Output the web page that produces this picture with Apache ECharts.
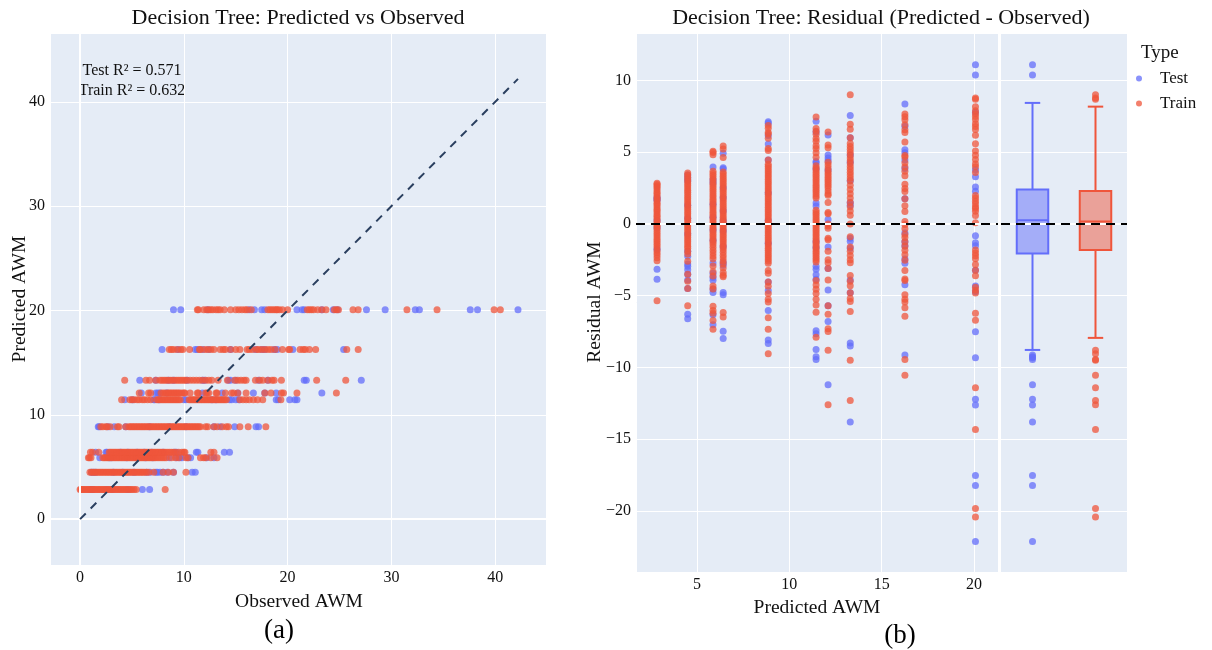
<!DOCTYPE html>
<html><head><meta charset="utf-8">
<script src="https://cdn.jsdelivr.net/npm/echarts@6/dist/echarts.min.js"></script>
<style>html,body{margin:0;padding:0;background:#fff}#c{width:1212px;height:650px}</style>
</head><body><div id="c"></div>
<script>
// ---- data ----
const predLevels = [2.84, 4.5, 5.87, 6.42, 8.86, 11.45, 12.1, 13.3, 16.26, 20.08];

const testObs1 = [1.0, 1.1, 1.2, 2.6, 3.1, 4.6, 6.0, 6.7];
const testObs2 = [1.1, 1.3, 1.5, 3.2, 4.1, 5.2, 6.4, 6.75, 7.3, 7.45, 7.7, 8.0, 8.4, 9.0, 10.8, 11.1];
const testObs3 = [1.9, 2.8, 3.0, 4.5, 5.4, 6.3, 7.0, 8.6, 9.3, 9.6, 9.8, 10.4, 10.65, 12.2, 12.9];
const testObs4 = [1.5, 2.5, 2.6, 3.9, 4.6, 5.5, 6.2, 6.9, 8.0, 9.1, 9.3, 11.2, 11.35, 13.9, 14.4];
const testObs5 = [1.75, 1.85, 2.7, 3.3, 4.4, 6.7, 8.6, 10.2, 12.9, 13.5, 14.9, 16.95, 17.2];
const testObs6 = [4.3, 5.05, 7.1, 7.2, 7.6, 10.0, 10.2, 12.7, 13.1, 14.4, 14.6, 15.0, 15.3, 18.9, 19.1, 20.2, 20.7, 20.9];
const testObs7 = [5.9, 7.3, 7.5, 7.7, 8.35, 11.8, 13.7, 15.2, 16.7, 17.8, 18.9, 23.3];
const testObs8 = [5.75, 7.3, 8.5, 9.0, 10.3, 11.8, 12.0, 14.3, 14.5, 15.0, 17.2, 18.1, 21.6, 21.8, 27.1];
const testObs9 = [7.9, 9.45, 11.1, 11.3, 11.8, 12.4, 14.5, 16.9, 17.5, 17.8, 18.7, 19.0, 20.5, 25.4];
const testObs10 = [9.0, 9.7, 12.3, 16.3, 16.8, 17.5, 17.8, 20.9, 21.4, 21.6, 23.3, 24.4, 24.8, 27.6, 29.4, 32.3, 32.7, 37.6, 38.3, 42.2];

const trainObs1 = [0.0, 0.1, 0.2, 0.3, 0.45, 0.6, 0.7, 0.85, 1.0, 1.1, 1.25, 1.4, 1.5, 1.65, 1.8, 1.9, 2.05, 2.2, 2.3, 2.45, 2.6, 2.75, 2.9, 3.0, 3.15, 3.3, 3.45, 3.6, 3.75, 3.9, 4.05, 4.2, 4.35, 4.5, 4.7, 4.85, 5.0, 5.2, 5.4, 8.2];
const trainObs2 = [0.95, 1.1, 1.25, 1.4, 1.55, 1.7, 1.85, 2.0, 2.15, 2.3, 2.45, 2.6, 2.75, 2.9, 3.05, 3.2, 3.35, 3.5, 3.65, 3.8, 3.95, 4.1, 4.25, 4.4, 4.55, 4.7, 4.85, 5.0, 5.15, 5.3, 5.45, 5.6, 5.75, 5.9, 6.05, 6.2, 6.4, 6.6, 7.1, 8.0, 8.5, 9.0, 10.2];
const trainObs3 = [0.8, 0.9, 1.05, 2.2, 2.35, 2.5, 2.65, 2.8, 2.95, 3.1, 3.25, 3.4, 3.55, 3.7, 3.85, 4.0, 4.15, 4.3, 4.45, 4.6, 4.75, 4.9, 5.05, 5.2, 5.35, 5.5, 5.65, 5.8, 5.95, 6.1, 6.25, 6.4, 6.55, 6.7, 6.85, 7.0, 7.15, 7.3, 7.5, 7.7, 7.9, 8.1, 8.3, 8.8, 9.2, 9.5, 10.2, 10.4, 11.6, 11.9, 12.1, 12.6, 13.2];
const trainObs4 = [1.0, 1.2, 1.8, 2.8, 2.95, 3.1, 3.25, 3.4, 3.55, 3.7, 3.85, 4.0, 4.15, 4.3, 4.45, 4.6, 4.75, 4.9, 5.05, 5.2, 5.35, 5.5, 5.65, 5.8, 5.95, 6.1, 6.25, 6.4, 6.55, 6.7, 6.85, 7.0, 7.15, 7.3, 7.45, 7.6, 7.75, 7.9, 8.05, 8.2, 8.4, 8.6, 8.8, 9.0, 9.2, 9.5, 9.8, 10.0, 10.1, 12.6, 12.9];
const trainObs5 = [2.0, 2.2, 2.5, 2.6, 2.9, 3.6, 3.75, 4.4, 4.7, 4.85, 5.0, 5.15, 5.3, 5.45, 5.6, 5.75, 5.9, 6.05, 6.2, 6.35, 6.5, 6.65, 6.8, 6.95, 7.1, 7.25, 7.4, 7.55, 7.7, 7.85, 8.0, 8.15, 8.3, 8.45, 8.6, 8.75, 8.9, 9.05, 9.2, 9.35, 9.5, 9.65, 9.8, 9.95, 10.1, 10.25, 10.4, 10.55, 10.7, 10.85, 11.0, 11.15, 11.3, 11.45, 11.6, 12.1, 12.3, 12.9, 13.2, 13.7, 14.1, 14.3, 15.4, 16.2, 17.9];
const trainObs6 = [4.0, 4.8, 5.0, 5.2, 5.5, 5.7, 6.0, 6.2, 6.5, 6.8, 7.4, 7.55, 7.7, 7.85, 8.0, 8.15, 8.3, 8.45, 8.6, 8.75, 8.9, 9.05, 9.2, 9.35, 9.5, 9.65, 10.5, 10.65, 10.8, 10.95, 11.1, 11.25, 11.4, 11.55, 11.7, 11.85, 12.0, 12.15, 12.3, 12.45, 12.6, 12.75, 12.9, 13.05, 13.2, 13.35, 13.5, 13.65, 13.8, 13.95, 14.1, 15.4, 15.7, 16.0, 16.3, 16.7, 17.1, 17.6, 19.35];
const trainObs7 = [5.7, 6.6, 6.8, 7.8, 8.0, 8.2, 8.4, 8.55, 8.7, 8.85, 9.0, 9.15, 9.3, 9.45, 9.6, 9.8, 10.0, 10.1, 10.6, 11.3, 11.4, 12.1, 12.25, 12.4, 13.1, 13.2, 14.0, 14.6, 14.8, 15.2, 16.0, 17.8, 18.4, 19.4, 19.6, 20.9, 24.7];
const trainObs8 = [4.3, 6.35, 6.7, 7.3, 7.7, 7.9, 8.1, 8.3, 8.5, 8.7, 8.9, 9.1, 9.3, 9.5, 9.7, 9.9, 10.1, 10.3, 10.6, 10.9, 11.2, 11.5, 11.8, 12.1, 12.4, 12.7, 13.3, 14.2, 14.9, 15.2, 15.5, 15.8, 16.0, 16.9, 17.3, 17.6, 18.1, 18.5, 18.7, 19.4, 22.8, 25.6];
const trainObs9 = [8.6, 8.8, 9.0, 9.35, 9.7, 9.9, 10.55, 11.5, 11.6, 12.0, 12.3, 12.6, 12.9, 13.5, 13.8, 14.0, 14.5, 15.0, 15.4, 16.1, 16.3, 16.6, 17.0, 17.2, 17.5, 17.8, 18.1, 18.4, 18.8, 19.5, 20.1, 20.2, 21.2, 21.5, 21.7, 22.1, 22.7, 25.7, 26.8];
const trainObs10 = [11.3, 11.4, 11.92, 12.2, 12.4, 12.6, 12.8, 13.1, 13.3, 13.5, 13.9, 14.5, 15.0, 15.3, 15.6, 15.9, 16.1, 16.5, 18.1, 18.3, 18.5, 18.7, 18.9, 19.0, 19.2, 19.5, 20.0, 21.9, 22.1, 22.3, 22.5, 22.9, 23.3, 23.7, 24.5, 24.7, 24.9, 26.3, 26.8, 31.5, 34.4, 39.9, 40.5];

const testObsByLevel = [testObs1, testObs2, testObs3, testObs4, testObs5, testObs6, testObs7, testObs8, testObs9, testObs10];
const trainObsByLevel = [trainObs1, trainObs2, trainObs3, trainObs4, trainObs5, trainObs6, trainObs7, trainObs8, trainObs9, trainObs10];

const typeNames = ['Test', 'Train'];
// box stats: lower whisker, Q1, median, Q3, upper whisker
const boxTest = [-8.78, -2.07, 0.26, 2.39, 8.43];
const boxTrain = [-7.94, -1.81, 0.16, 2.30, 8.17];
const r2Texts = ['Test R\u00b2 = 0.571', 'Train R\u00b2 = 0.632'];
const refLine = [[0, 0], [42.2, 42.2]];

const leftXTicks = [0, 10, 20, 30, 40];
const leftYTicks = [0, 10, 20, 30, 40];
const rightXTicks = [5, 10, 15, 20];
const rightYTicks = [-20, -15, -10, -5, 0, 5, 10];

// ---- build ----
const FONT = '"Liberation Serif", "Times New Roman", serif';
const TXT = '#111';
const C_TEST = '#636EFA', C_TRAIN = '#EF553B';
const F_TEST = 'rgba(99,110,250,0.5)', F_TRAIN = 'rgba(239,85,59,0.5)';
const BG = '#E5ECF6';
const r2 = v => Math.round(v * 100) / 100;

const leftTest = [], leftTrain = [], resTest = [], resTrain = [];
predLevels.forEach((p, i) => {
  testObsByLevel[i].forEach(o => { leftTest.push([o, p]); resTest.push([p, r2(p - o)]); });
  trainObsByLevel[i].forEach(o => { leftTrain.push([o, p]); resTrain.push([p, r2(p - o)]); });
});
const outTest = resTest.filter(d => d[1] < boxTest[0] || d[1] > boxTest[4]).map(d => [0, d[1]]);
const outTrain = resTrain.filter(d => d[1] < boxTrain[0] || d[1] > boxTrain[4]).map(d => [1, d[1]]);

const minus = v => (v < 0 ? '\u2212' + Math.abs(v) : String(v));
const fmt = ticks => v => (ticks.indexOf(Math.round(v * 1000) / 1000) >= 0 ? minus(Math.round(v * 1000) / 1000) : '');
const lab = (ticks) => ({ fontFamily: FONT, fontSize: 16, color: TXT, margin: 5, formatter: fmt(ticks), showMinLabel: false, showMaxLabel: false });
const split = { show: true, lineStyle: { color: '#fff', width: 1 } };

const chart = echarts.init(document.getElementById('c'), null, { renderer: 'canvas' });
const dotStyle = (c) => ({ color: c, opacity: 0.75 });

const option = {
  animation: false,
  backgroundColor: '#fff',
  grid: [
    { left: 50, top: 33, width: 496, height: 532, show: true, backgroundColor: BG, borderWidth: 0 },
    { left: 636, top: 33, width: 362, height: 539, show: true, backgroundColor: BG, borderWidth: 0 },
    { left: 1001, top: 33, width: 126, height: 539, show: true, backgroundColor: BG, borderWidth: 0 }
  ],
  xAxis: [
    { gridIndex: 0, type: 'value', min: -2.9, max: 44.9, splitNumber: 5, axisLine: { show: false }, axisTick: { show: false }, axisLabel: lab(leftXTicks), splitLine: split },
    { gridIndex: 1, type: 'value', min: 1.7, max: 21.3, splitNumber: 4, axisLine: { show: false }, axisTick: { show: false }, axisLabel: lab(rightXTicks), splitLine: split },
    { gridIndex: 2, type: 'category', data: typeNames, boundaryGap: true, axisLine: { show: false }, axisTick: { show: false }, axisLabel: { show: false }, splitLine: { show: false } }
  ],
  yAxis: [
    { gridIndex: 0, type: 'value', min: -4.4, max: 46.6, splitNumber: 5, axisLine: { show: false }, axisTick: { show: false }, axisLabel: lab(leftYTicks), splitLine: split },
    { gridIndex: 1, type: 'value', min: -24.25, max: 13.3, splitNumber: 8, axisLine: { show: false }, axisTick: { show: false }, axisLabel: lab(rightYTicks), splitLine: split },
    { gridIndex: 2, type: 'value', min: -24.25, max: 13.3, splitNumber: 8, axisLine: { show: false }, axisTick: { show: false }, axisLabel: { show: false }, splitLine: split }
  ],
  legend: {
    data: typeNames, orient: 'vertical', left: 1131, top: 65, icon: 'circle',
    itemWidth: 32, itemHeight: 6, itemGap: 8, selectedMode: false,
    textStyle: { fontFamily: FONT, fontSize: 17, color: TXT, lineHeight: 17 }
  },
  graphic: [
    { type: 'text', x: 298, y: 18, style: { text: 'Decision Tree: Predicted vs Observed', font: '22px ' + FONT, fill: TXT, textAlign: 'center', textVerticalAlign: 'middle' } },
    { type: 'text', x: 881, y: 18, style: { text: 'Decision Tree: Residual (Predicted - Observed)', font: '22px ' + FONT, fill: TXT, textAlign: 'center', textVerticalAlign: 'middle' } },
    { type: 'text', x: 132, y: 71, style: { text: r2Texts[0], font: '16px ' + FONT, fill: TXT, textAlign: 'center', textVerticalAlign: 'middle' } },
    { type: 'text', x: 132, y: 91, style: { text: r2Texts[1], font: '16px ' + FONT, fill: TXT, textAlign: 'center', textVerticalAlign: 'middle' } },
    { type: 'text', x: 299, y: 602, style: { text: 'Observed AWM', font: '19.5px ' + FONT, fill: TXT, textAlign: 'center', textVerticalAlign: 'middle' } },
    { type: 'text', x: 817, y: 608, style: { text: 'Predicted AWM', font: '19.5px ' + FONT, fill: TXT, textAlign: 'center', textVerticalAlign: 'middle' } },
    { type: 'text', x: 20, y: 299, rotation: Math.PI / 2, style: { text: 'Predicted AWM', font: '19.5px ' + FONT, fill: TXT, textAlign: 'center', textVerticalAlign: 'middle' } },
    { type: 'text', x: 595, y: 302, rotation: Math.PI / 2, style: { text: 'Residual AWM', font: '19.5px ' + FONT, fill: TXT, textAlign: 'center', textVerticalAlign: 'middle' } },
    { type: 'text', x: 279, y: 631, style: { text: '(a)', font: '27px ' + FONT, fill: '#000', textAlign: 'center', textVerticalAlign: 'middle' } },
    { type: 'text', x: 900, y: 636, style: { text: '(b)', font: '27px ' + FONT, fill: '#000', textAlign: 'center', textVerticalAlign: 'middle' } },
    { type: 'text', x: 1141, y: 53, style: { text: 'Type', font: '19px ' + FONT, fill: TXT, textAlign: 'left', textVerticalAlign: 'middle' } }
  ],
  series: [
    { type: 'line', xAxisIndex: 0, yAxisIndex: 0, data: [], z: 1, silent: true,
      markLine: { silent: true, symbol: 'none', label: { show: false }, lineStyle: { color: '#fff', width: 2, type: 'solid' }, data: [{ xAxis: 0 }, { yAxis: 0 }] } },
    { name: 'Test', type: 'scatter', xAxisIndex: 0, yAxisIndex: 0, data: leftTest, symbolSize: 7, itemStyle: dotStyle(C_TEST), z: 3 },
    { name: 'Train', type: 'scatter', xAxisIndex: 0, yAxisIndex: 0, data: leftTrain, symbolSize: 7, itemStyle: dotStyle(C_TRAIN), z: 4 },
    { type: 'line', xAxisIndex: 0, yAxisIndex: 0, data: refLine, symbol: 'none', z: 6, silent: true,
      lineStyle: { color: '#2a3f5f', width: 2, type: [8, 7] } },
    { type: 'line', xAxisIndex: 1, yAxisIndex: 1, data: [], z: 1, silent: true,
      markLine: { silent: true, symbol: 'none', label: { show: false }, lineStyle: { color: '#fff', width: 2, type: 'solid' }, data: [{ yAxis: 0 }] } },
    { name: 'Test', type: 'scatter', xAxisIndex: 1, yAxisIndex: 1, data: resTest, symbolSize: 7, itemStyle: dotStyle(C_TEST), z: 3 },
    { name: 'Train', type: 'scatter', xAxisIndex: 1, yAxisIndex: 1, data: resTrain, symbolSize: 7, itemStyle: dotStyle(C_TRAIN), z: 4 },
    { type: 'line', xAxisIndex: 1, yAxisIndex: 1, data: [], z: 8, silent: true,
      markLine: { silent: true, symbol: 'none', label: { show: false }, lineStyle: { color: '#000', width: 2, type: [9, 6] }, data: [{ yAxis: 0 }] } },
    { type: 'line', xAxisIndex: 2, yAxisIndex: 2, data: [], z: 1, silent: true,
      markLine: { silent: true, symbol: 'none', label: { show: false }, lineStyle: { color: '#fff', width: 2, type: 'solid' }, data: [{ yAxis: 0 }] } },
    { type: 'custom', xAxisIndex: 2, yAxisIndex: 2, z: 3, silent: true,
      data: [[0].concat(boxTest), [1].concat(boxTrain)],
      encode: { x: 0, y: [1, 2, 3, 4, 5] },
      renderItem: function (params, api) {
        const xi = api.value(0);
        const lo = api.coord([xi, api.value(1)]);
        const q1 = api.coord([xi, api.value(2)]);
        const md = api.coord([xi, api.value(3)]);
        const q3 = api.coord([xi, api.value(4)]);
        const hi = api.coord([xi, api.value(5)]);
        const band = api.size([1, 0])[0];
        const bw = band * 0.5, cw = band * 0.245;
        const cx = lo[0];
        const stroke = xi === 0 ? C_TEST : C_TRAIN;
        const fill = xi === 0 ? F_TEST : F_TRAIN;
        const ls = { stroke: stroke, lineWidth: 2, fill: null };
        return { type: 'group', children: [
          { type: 'line', shape: { x1: cx, y1: hi[1], x2: cx, y2: q3[1] }, style: ls },
          { type: 'line', shape: { x1: cx, y1: q1[1], x2: cx, y2: lo[1] }, style: ls },
          { type: 'line', shape: { x1: cx - cw / 2, y1: hi[1], x2: cx + cw / 2, y2: hi[1] }, style: ls },
          { type: 'line', shape: { x1: cx - cw / 2, y1: lo[1], x2: cx + cw / 2, y2: lo[1] }, style: ls },
          { type: 'rect', shape: { x: cx - bw / 2, y: q3[1], width: bw, height: q1[1] - q3[1] }, style: { fill: fill, stroke: stroke, lineWidth: 2 } },
          { type: 'line', shape: { x1: cx - bw / 2, y1: md[1], x2: cx + bw / 2, y2: md[1] }, style: ls }
        ] };
      } },
    { name: 'Test', type: 'scatter', xAxisIndex: 2, yAxisIndex: 2, data: outTest, symbolSize: 7, itemStyle: dotStyle(C_TEST), z: 4 },
    { name: 'Train', type: 'scatter', xAxisIndex: 2, yAxisIndex: 2, data: outTrain, symbolSize: 7, itemStyle: dotStyle(C_TRAIN), z: 4 },
    { type: 'line', xAxisIndex: 2, yAxisIndex: 2, data: [], z: 8, silent: true,
      markLine: { silent: true, symbol: 'none', label: { show: false }, lineStyle: { color: '#000', width: 2, type: [9, 6] }, data: [{ yAxis: 0 }] } }
  ]
};
chart.setOption(option);
</script>
</body></html>
